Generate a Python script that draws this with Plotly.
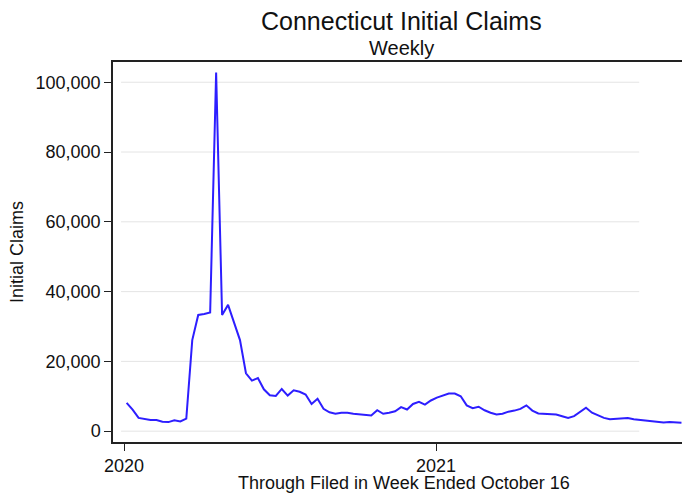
import plotly.graph_objects as go
import pandas as pd

# Weekly initial claims, weeks ending Saturday, Jan 4 2020 .. Oct 16 2021
week_start = "2020-01-04"
claims_2020 = [
    8100, 6200, 3800, 3400, 3200, 3200, 2700, 2600, 3100, 2800,
    3600, 26100, 33300, 33600, 34000, 102800, 33300, 36200, 30900, 26100,
    16600, 14500, 15200, 12000, 10300, 10100, 12100, 10200, 11700, 11300,
    10500, 7800, 9300, 6400, 5400, 5000, 5300, 5300, 5000, 4800,
    4600, 4500, 6000, 5000, 5300, 5700, 6900, 6200, 7800, 8400,
    7600, 8800,
]
claims_2021 = [
    9600, 10300, 10800, 10800, 10000, 7400, 6600, 7000, 6000, 5300,
    4800, 5000, 5600, 5900, 6400, 7400, 5900, 5100, 5000, 5000,
    4800, 4300, 3800, 4300, 5400, 6700, 5300, 4500, 3800, 3400,
    3600, 3700, 3800, 3400, 3200, 3100, 2700, 2500, 2500, 2600,
    2600, 2400,
]
claims = claims_2020 + claims_2021
weeks = pd.date_range(week_start, periods=len(claims), freq="7D")

y_ticks = [0, 20000, 40000, 60000, 80000, 100000]
x_tick_vals = ["2020-01-01", "2021-01-01"]
x_tick_text = ["2020", "2021"]

font_family = "Liberation Sans, Arial, sans-serif"

fig = go.Figure()
fig.add_trace(go.Scatter(
    x=weeks, y=claims, mode="lines",
    line=dict(color="rgb(45,30,255)", width=2),
    hoverinfo="skip", showlegend=False,
))

# gridlines (Stata style, inset from the axes)
for v in y_ticks:
    fig.add_shape(type="line", xref="paper", yref="y",
                  x0=0.014, x1=0.912, y0=v, y1=v,
                  line=dict(color="#e4e4e4", width=1), layer="below")

# page body has an 8px default margin, so the figure is 8px smaller
fig.update_layout(
    width=682, height=485,
    margin=dict(l=105, r=0, t=54, b=51, autoexpand=False),
    paper_bgcolor="white", plot_bgcolor="white",
    font=dict(family=font_family, size=18, color="#1a1a1a"),
    annotations=[
        dict(text="Connecticut Initial Claims", xref="paper", yref="paper",
             x=0.5, y=1.107, xanchor="center", yanchor="middle",
             showarrow=False, font=dict(size=25, color="#111")),
        dict(text="Weekly", xref="paper", yref="paper",
             x=0.5, y=1.0368, xanchor="center", yanchor="middle",
             showarrow=False, font=dict(size=20, color="#111")),
        dict(text="Through Filed in Week Ended October 16", xref="paper", yref="paper",
             x=0.505, y=-0.107, xanchor="center", yanchor="middle",
             showarrow=False, font=dict(size=18, color="#111")),
        dict(text="Initial Claims", xref="paper", yref="paper",
             x=-0.1665, y=0.5, xanchor="center", yanchor="middle",
             textangle=-90, showarrow=False, font=dict(size=18, color="#111")),
    ],
)

fig.update_xaxes(
    type="date", automargin=False,
    range=["2019-12-19", "2021-10-26"],
    tickmode="array", tickvals=x_tick_vals, ticktext=x_tick_text,
    ticks="outside", ticklen=7, tickcolor="#222", tickwidth=1,
    showgrid=False, zeroline=False,
    showline=True, linecolor="#222", linewidth=1.5, mirror=True,
    tickfont=dict(size=18, color="#111"),
)
fig.update_yaxes(
    automargin=False,
    range=[-3100, 105800],
    tickmode="array", tickvals=y_ticks, tickformat=",",
    ticks="outside", ticklen=7, tickcolor="#222", tickwidth=1,
    showgrid=False, zeroline=False,
    showline=True, linecolor="#222", linewidth=1.5,
    tickfont=dict(size=18, color="#111"),
)

fig.write_html("out.html")
